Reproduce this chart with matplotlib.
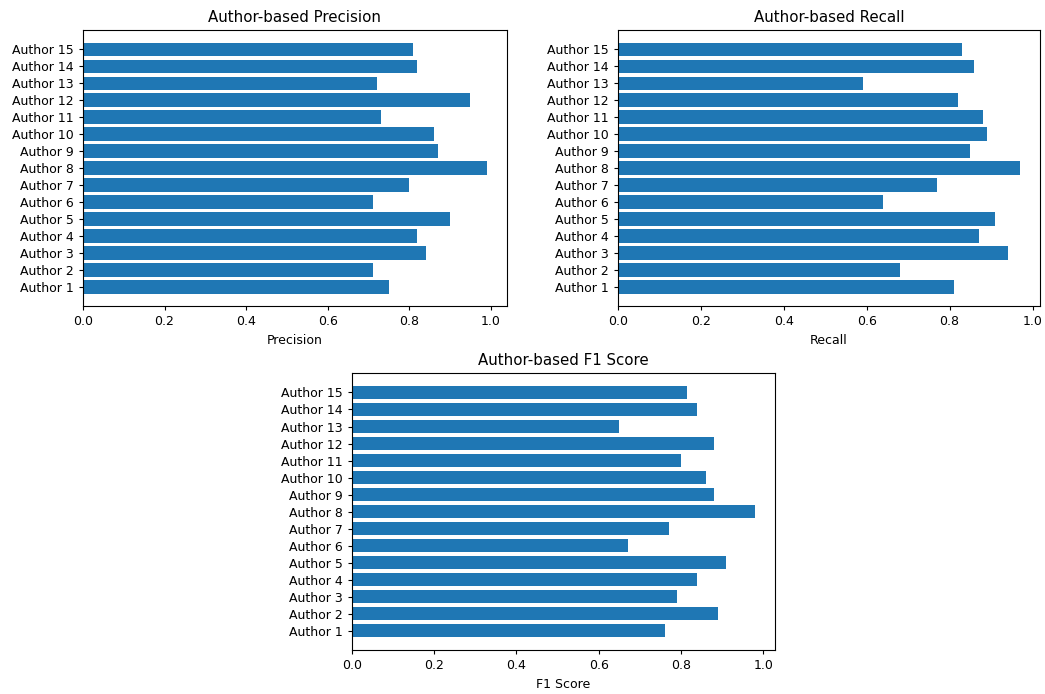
import matplotlib
matplotlib.use('Agg')
import matplotlib.pyplot as plt

# données
authors = ['Author {}'.format(i) for i in range(1, 16)]
precision = [0.75, 0.71, 0.84, 0.82, 0.90, 0.71, 0.80, 0.99, 0.87, 0.86, 0.73, 0.95, 0.72, 0.82, 0.81]
recall = [0.81, 0.68, 0.94, 0.87, 0.91, 0.64, 0.77, 0.97, 0.85, 0.89, 0.88, 0.82, 0.59, 0.86, 0.83]
f1 = [0.76, 0.89, 0.79, 0.84, 0.91, 0.67, 0.77, 0.98, 0.88, 0.86, 0.80, 0.88, 0.65, 0.84, 0.815]

# le rendu d'origine semble réduit d'environ 0.9
plt.rcParams['font.size'] = 9
plt.rcParams['axes.titlesize'] = 10.8
plt.rcParams['xtick.major.size'] = 3.2
plt.rcParams['ytick.major.size'] = 3.2

fig = plt.figure(figsize=(10.45, 6.94), dpi=100)

ax1 = fig.add_axes([0.0794, 0.559, 0.4057, 0.3977])
ax2 = fig.add_axes([0.5914, 0.559, 0.404, 0.3977])
ax3 = fig.add_axes([0.3368, 0.0634, 0.405, 0.399])

panels = [
    (ax1, precision, 'Precision', 'Author-based Precision'),
    (ax2, recall, 'Recall', 'Author-based Recall'),
    (ax3, f1, 'F1 Score', 'Author-based F1 Score'),
]

for ax, vals, xlab, title in panels:
    ax.barh(authors, vals, color='#1f77b4')
    ax.set_xlabel(xlab)
    ax.set_title(title)

plt.savefig('out.png', dpi=100)
